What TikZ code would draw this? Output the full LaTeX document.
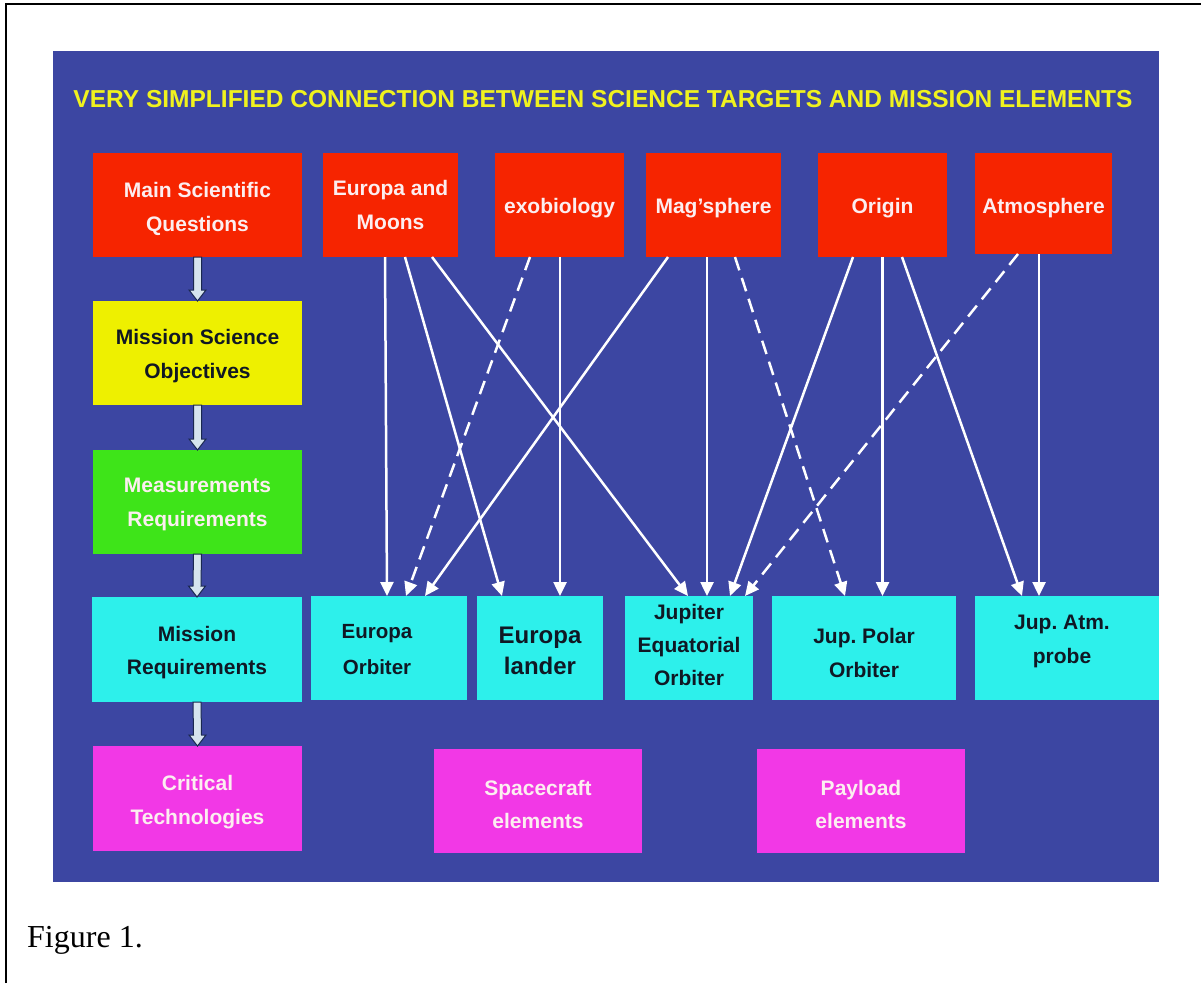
\documentclass[tikz,border=0pt]{standalone}
\usepackage{fontspec}
\setmainfont{Liberation Sans}
\newfontfamily\timesfont{Liberation Serif}
\usetikzlibrary{arrows.meta,calc}
\frenchspacing
\definecolor{panelblue}{RGB}{60,70,162}
\definecolor{cred}{RGB}{246,36,0}
\definecolor{cyel}{RGB}{238,240,0}
\definecolor{cgreen}{RGB}{62,228,25}
\definecolor{ccyan}{RGB}{45,240,235}
\definecolor{cmag}{RGB}{242,56,230}
\definecolor{wtxt}{RGB}{252,238,240}
\definecolor{dtxt}{RGB}{16,24,36}
\definecolor{ttl}{RGB}{240,242,30}
\definecolor{arrfill}{RGB}{214,228,238}
\definecolor{arrline}{RGB}{26,40,80}
\newcommand\blockarr[2]{%
  \path[barrow] ([xshift=-4pt]#1.south) -- ([xshift=-4pt,yshift=11pt]#2.north)
    -- ([xshift=-8.5pt,yshift=11pt]#2.north) -- (#2.north)
    -- ([xshift=8.5pt,yshift=11pt]#2.north) -- ([xshift=4pt,yshift=11pt]#2.north)
    -- ([xshift=4pt]#1.south) -- cycle;}
% name, x, y, w, h, fill, text colour, text, extra label options
\newcommand\bxn[9]{%
  \node[bx,fill=#6,wh={#4}{#5},
    label={[lbl,text=#7,#9]center:#8}] (#1) at (#2,#3) {};}
\begin{document}
\begin{tikzpicture}[x=1pt,y=-1pt,
  bx/.style={inner sep=0pt,outer sep=0pt},
  wh/.style 2 args={minimum width=#1pt,minimum height=#2pt},
  lbl/.style={inner sep=0pt,align=center,
    font=\bfseries\fontsize{21}{33.5}\selectfont},
  arr/.style={draw=white,line width=2.5pt,-{Triangle[width=13pt,length=14pt]}},
  dsh/.style={arr,dash pattern=on 14pt off 8pt},
  barrow/.style={fill=arrfill,draw=arrline,line width=1pt}]
\useasboundingbox (0,0) rectangle (1201,983);
\fill[white] (0,0) rectangle (1201,983);
\draw[line width=1.5pt] (6,983) -- (6,4) -- (1201,4);
\fill[panelblue] (53,51) rectangle (1159,882);

\node[anchor=base,inner sep=0pt,text=ttl,font=\bfseries\fontsize{24.5}{30}\selectfont] (title) at (603,107)
  {VERY SIMPLIFIED CONNECTION BETWEEN SCIENCE TARGETS AND MISSION ELEMENTS};

% left column
\bxn{msq}{197.5}{205}{209}{104}{cred}{wtxt}{Main Scientific\\Questions}{yshift=-4pt}
\bxn{mso}{197.5}{353}{209}{104}{cyel}{dtxt}{Mission Science\\Objectives}{yshift=-3pt}
\bxn{mmr}{197.5}{502}{209}{104}{cgreen}{wtxt}{Measurements\\Requirements}{yshift=-2.5pt}
\bxn{mreq}{197}{649.5}{210}{105}{ccyan}{dtxt}{Mission\\Requirements}{yshift=-3pt}
\bxn{ct}{197.5}{798.5}{209}{105}{cmag}{wtxt}{Critical\\Technologies}{yshift=-3.5pt}

% science targets
\bxn{eum}{390.5}{205}{135}{104}{cred}{wtxt}{Europa and\\Moons}{yshift=0pt}
\bxn{exo}{559.5}{205}{129}{104}{cred}{wtxt}{exobiology}{yshift=-3.5pt}
\bxn{mag}{713.5}{205}{135}{104}{cred}{wtxt}{Mag'sphere}{yshift=-3.5pt}
\bxn{ori}{882.5}{205}{129}{104}{cred}{wtxt}{Origin}{yshift=-3.5pt}
\bxn{atm}{1043.5}{203.5}{137}{101}{cred}{wtxt}{Atmosphere}{yshift=-4.5pt}

% mission elements
\bxn{eo}{389}{648}{156}{104}{ccyan}{dtxt}{Europa\\Orbiter}{xshift=-12pt,yshift=-2pt,font=\bfseries\fontsize{20.5}{36}\selectfont}
\bxn{el}{540}{648}{126}{104}{ccyan}{dtxt}{Europa\\lander}{yshift=-3pt,font=\bfseries\fontsize{24}{31}\selectfont}
\bxn{jeo}{689}{648}{128}{104}{ccyan}{dtxt}{Jupiter\\Equatorial\\Orbiter}{yshift=3pt,font=\bfseries\fontsize{21}{33}\selectfont}
\bxn{jpo}{864}{648}{184}{104}{ccyan}{dtxt}{Jup. Polar\\Orbiter}{yshift=-5pt}
\bxn{jap}{1067}{648}{184}{104}{ccyan}{dtxt}{Jup. Atm.\\probe}{xshift=-5pt,yshift=6.5pt}

% bottom elements
\bxn{sce}{538}{801}{208}{104}{cmag}{wtxt}{Spacecraft\\elements}{yshift=-3.5pt}
\bxn{ple}{861}{801}{208}{104}{cmag}{wtxt}{Payload\\elements}{yshift=-3.5pt}

% block arrows
\blockarr{msq}{mso}
\blockarr{mso}{mmr}
\blockarr{mmr}{mreq}
\blockarr{mreq}{ct}

% connections
\draw[arr] ([xshift=-5.5pt]eum.south) -- ([xshift=-2pt]eo.north);
\draw[arr] ([xshift=14.5pt]eum.south) -- ([xshift=-38pt]el.north);
\draw[arr] ([xshift=41.5pt]eum.south) -- ([xshift=-1pt]jeo.north);
\draw[dsh] ([xshift=-29.5pt]exo.south) -- ([xshift=17pt]eo.north);
\draw[arr] ([xshift=0.5pt]exo.south) -- ([xshift=20pt]el.north);
\draw[arr] ([xshift=-45.5pt]mag.south) -- ([xshift=36pt]eo.north);
\draw[arr] ([xshift=-6.5pt]mag.south) -- ([xshift=18pt]jeo.north);
\draw[dsh] ([xshift=21.5pt]mag.south) -- ([xshift=-19pt]jpo.north);
\draw[arr] ([xshift=-29.5pt]ori.south) -- ([xshift=41pt]jeo.north);
\draw[arr] ([xshift=0pt]ori.south) -- ([xshift=18.5pt]jpo.north);
\draw[arr] ([xshift=19.5pt]ori.south) -- ([xshift=-45pt]jap.north);
\draw[dsh] ([xshift=-25.5pt]atm.south) -- ([xshift=56pt]jeo.north);
\draw[arr] ([xshift=-4.5pt]atm.south) -- ([xshift=-28pt]jap.north);

\node[anchor=base west,inner sep=0pt,font=\timesfont\fontsize{32}{38}\selectfont] (fig) at (27,947) {Figure 1.};
\end{tikzpicture}
\end{document}
